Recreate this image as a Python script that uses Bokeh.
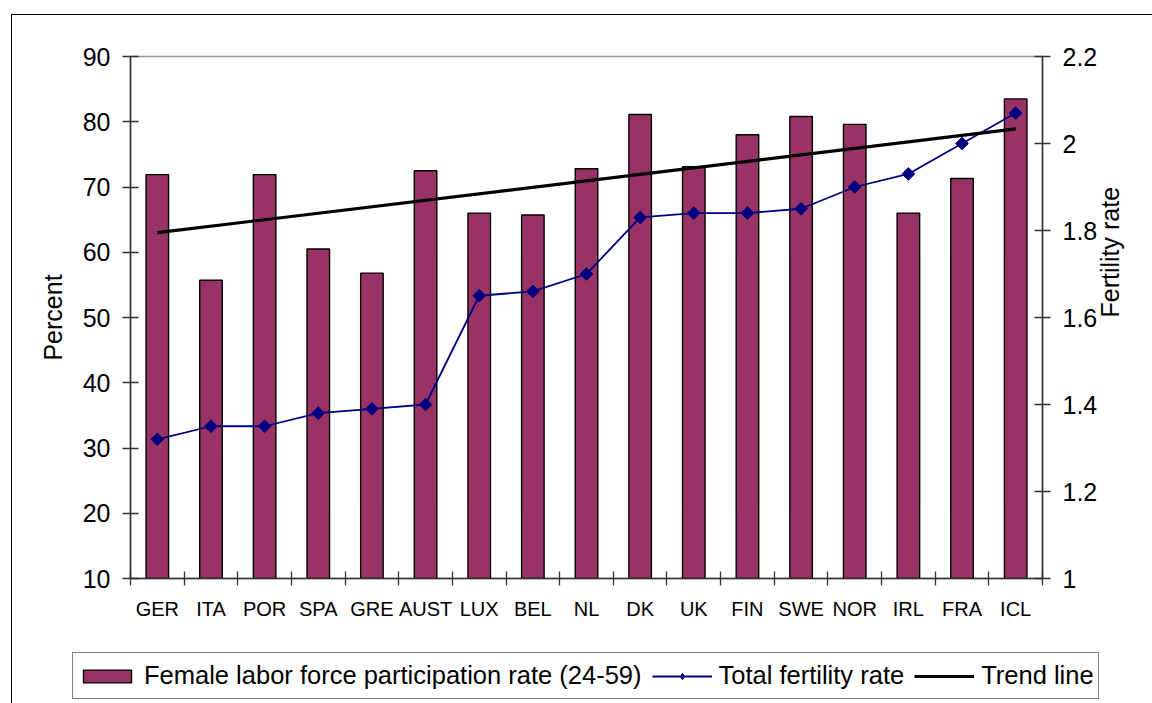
import math
from bokeh.plotting import figure
from bokeh.layouts import column
from bokeh.models import (LinearAxis, Range1d, FixedTicker, Legend, LegendItem,
                          ColumnDataSource, CustomJSTickFormatter)
from bokeh.embed import file_html
from bokeh.resources import INLINE

# ---- data ----
countries = ["GER", "ITA", "POR", "SPA", "GRE", "AUST", "LUX", "BEL", "NL",
             "DK", "UK", "FIN", "SWE", "NOR", "IRL", "FRA", "ICL"]
labor_rate = [71.9, 55.7, 71.9, 60.5, 56.8, 72.5, 66.0, 65.7, 72.8,
              81.1, 73.1, 78.0, 80.8, 79.6, 66.0, 71.3, 83.5]
fertility = [1.32, 1.35, 1.35, 1.38, 1.39, 1.40, 1.65, 1.66, 1.70,
             1.83, 1.84, 1.84, 1.85, 1.90, 1.93, 2.00, 2.07]
trend_countries = ["GER", "ICL"]
trend_values = [63.0, 78.9]
percent_ticks = [10, 20, 30, 40, 50, 60, 70, 80, 90]
fert_ticks = [1.0, 1.2, 1.4, 1.6, 1.8, 2.0, 2.2]
legend_labels = ["Female labor force participation rate (24-59)",
                 "Total fertility rate", "Trend line"]

FONT = "Liberation Sans"
AXIS_COLOR = "#333333"
BAR_COLOR = "#993366"
LINE_COLOR = "#000080"

n = len(countries)
xpos = [i + 0.5 for i in range(n)]
pos = dict(zip(countries, xpos))

src = ColumnDataSource(dict(x=xpos, country=countries, labor=labor_rate, fert=fertility))
trend_src = ColumnDataSource(dict(x=[pos[c] for c in trend_countries], y=trend_values))

p = figure(width=1152, height=640, output_backend="svg", toolbar_location=None,
           x_range=Range1d(0, n), y_range=Range1d(percent_ticks[0], percent_ticks[-1]),
           min_border_left=130, min_border_right=110, min_border_top=56, min_border_bottom=62,
           background_fill_color="white", border_fill_color=None,
           outline_line_color="#999999", outline_line_width=1.5)
p.frame_align = False
p.xgrid.visible = False
p.ygrid.visible = False

# ---- bottom axis: labels at category centres, ticks between categories ----
xa = p.xaxis[0]
xa.ticker = FixedTicker(ticks=xpos, minor_ticks=list(range(n + 1)))
xa.formatter = CustomJSTickFormatter(args=dict(names=countries),
                                     code="return names[Math.floor(tick)];")
xa.major_tick_line_color = None
xa.major_tick_in = 0
xa.major_tick_out = 7
xa.minor_tick_in = 7
xa.minor_tick_out = 7
xa.minor_tick_line_color = AXIS_COLOR
xa.minor_tick_line_width = 1.3
xa.axis_line_color = AXIS_COLOR
xa.axis_line_width = 1.5
xa.major_label_standoff = 12
xa.major_label_text_font = FONT
xa.major_label_text_font_size = "20px"
xa.major_label_text_color = "black"

# ---- left axis ----
ya = p.yaxis[0]
ya.ticker = FixedTicker(ticks=percent_ticks)
ya.axis_label = "Percent"
ya.axis_label_text_font = FONT
ya.axis_label_text_font_size = "25px"
ya.axis_label_text_font_style = "normal"
ya.axis_label_text_color = "black"
ya.axis_label_standoff = 13
ya.major_tick_in = 8
ya.major_tick_out = 8
ya.minor_tick_line_color = None
ya.major_tick_line_color = AXIS_COLOR
ya.major_tick_line_width = 1.3
ya.axis_line_color = AXIS_COLOR
ya.axis_line_width = 1.5
ya.major_label_standoff = 12
ya.major_label_text_font = FONT
ya.major_label_text_font_size = "25px"
ya.major_label_text_color = "black"

# ---- right axis ----
p.extra_y_ranges = {"fert": Range1d(fert_ticks[0], fert_ticks[-1])}
ra = LinearAxis(y_range_name="fert", ticker=FixedTicker(ticks=fert_ticks),
                formatter=CustomJSTickFormatter(code="return (Math.round(tick*10)/10).toString();"),
                axis_label="Fertility rate")
ra.axis_label_text_font = FONT
ra.axis_label_text_font_size = "25px"
ra.axis_label_text_font_style = "normal"
ra.axis_label_text_color = "black"
ra.axis_label_standoff = 10
if "axis_label_orientation" in LinearAxis.properties():
    ra.axis_label_orientation = math.pi / 2
ra.major_tick_in = 8
ra.major_tick_out = 8
ra.minor_tick_line_color = None
ra.major_tick_line_color = AXIS_COLOR
ra.major_tick_line_width = 1.3
ra.axis_line_color = AXIS_COLOR
ra.axis_line_width = 1.5
ra.major_label_standoff = 12
ra.major_label_text_font = FONT
ra.major_label_text_font_size = "25px"
ra.major_label_text_color = "black"
p.add_layout(ra, "right")

# ---- glyphs ----
bar_style = dict(fill_color=BAR_COLOR, line_color="black", line_width=1.4)
fline_style = dict(line_color=LINE_COLOR, line_width=1.8)
fmark_style = dict(marker="square", size=9, angle=math.pi / 4,
                   fill_color=LINE_COLOR, line_color=LINE_COLOR)
trend_style = dict(line_color="black", line_width=3.2)

bars = p.vbar(x="x", top="labor", bottom=percent_ticks[0], width=0.42, source=src, **bar_style)
fline = p.line(x="x", y="fert", source=src, y_range_name="fert", **fline_style)
fmark = p.scatter(x="x", y="fert", source=src, y_range_name="fert", **fmark_style)
trend = p.line(x="x", y="y", source=trend_src, **trend_style)

# ---- legend strip: a second figure below, with hidden copies of the series ----
pl = figure(width=1152, height=63, output_backend="svg", toolbar_location=None,
            x_range=Range1d(0, n), y_range=Range1d(percent_ticks[0], percent_ticks[-1]),
            min_border=0, min_border_left=0, min_border_right=0,
            min_border_top=0, min_border_bottom=0,
            background_fill_color=None, border_fill_color=None,
            outline_line_color=None)
pl.frame_align = False
pl.axis.visible = False
pl.grid.visible = False
lb = pl.vbar(x="x", top="labor", width=0.42, source=src, visible=False, **bar_style)
ll = pl.line(x="x", y="labor", source=src, visible=False, **fline_style)
lm = pl.scatter(x="x", y="labor", source=src, visible=False, marker="diamond", size=14,
                fill_color=LINE_COLOR, line_color=LINE_COLOR)
lt = pl.line(x="x", y="y", source=trend_src, visible=False, **trend_style)

legend = Legend(items=[
    LegendItem(label=legend_labels[0], renderers=[lb]),
    LegendItem(label=legend_labels[1], renderers=[ll, lm]),
    LegendItem(label=legend_labels[2], renderers=[lt]),
], orientation="horizontal", location=(72, 4))
legend.glyph_width = 60
legend.glyph_height = 16
legend.label_height = 37
legend.label_standoff = 7
legend.spacing = 10
legend.padding = 4
legend.margin = 0
legend.border_line_color = "black"
legend.border_line_width = 1
legend.background_fill_color = "white"
legend.background_fill_alpha = 1
legend.inactive_fill_alpha = 0
legend.label_text_font = FONT
legend.label_text_font_size = "25.5px"
legend.label_text_color = "black"
pl.add_layout(legend, "center")

layout = column(p, pl, spacing=0)
layout.styles = {
    "background": "linear-gradient(#000,#000) 11px 14px / 100% 1px no-repeat, "
                  "linear-gradient(#000,#000) 11px 14px / 1px 100% no-repeat, white"
}

open("out.html", "w").write(file_html(layout, INLINE))
